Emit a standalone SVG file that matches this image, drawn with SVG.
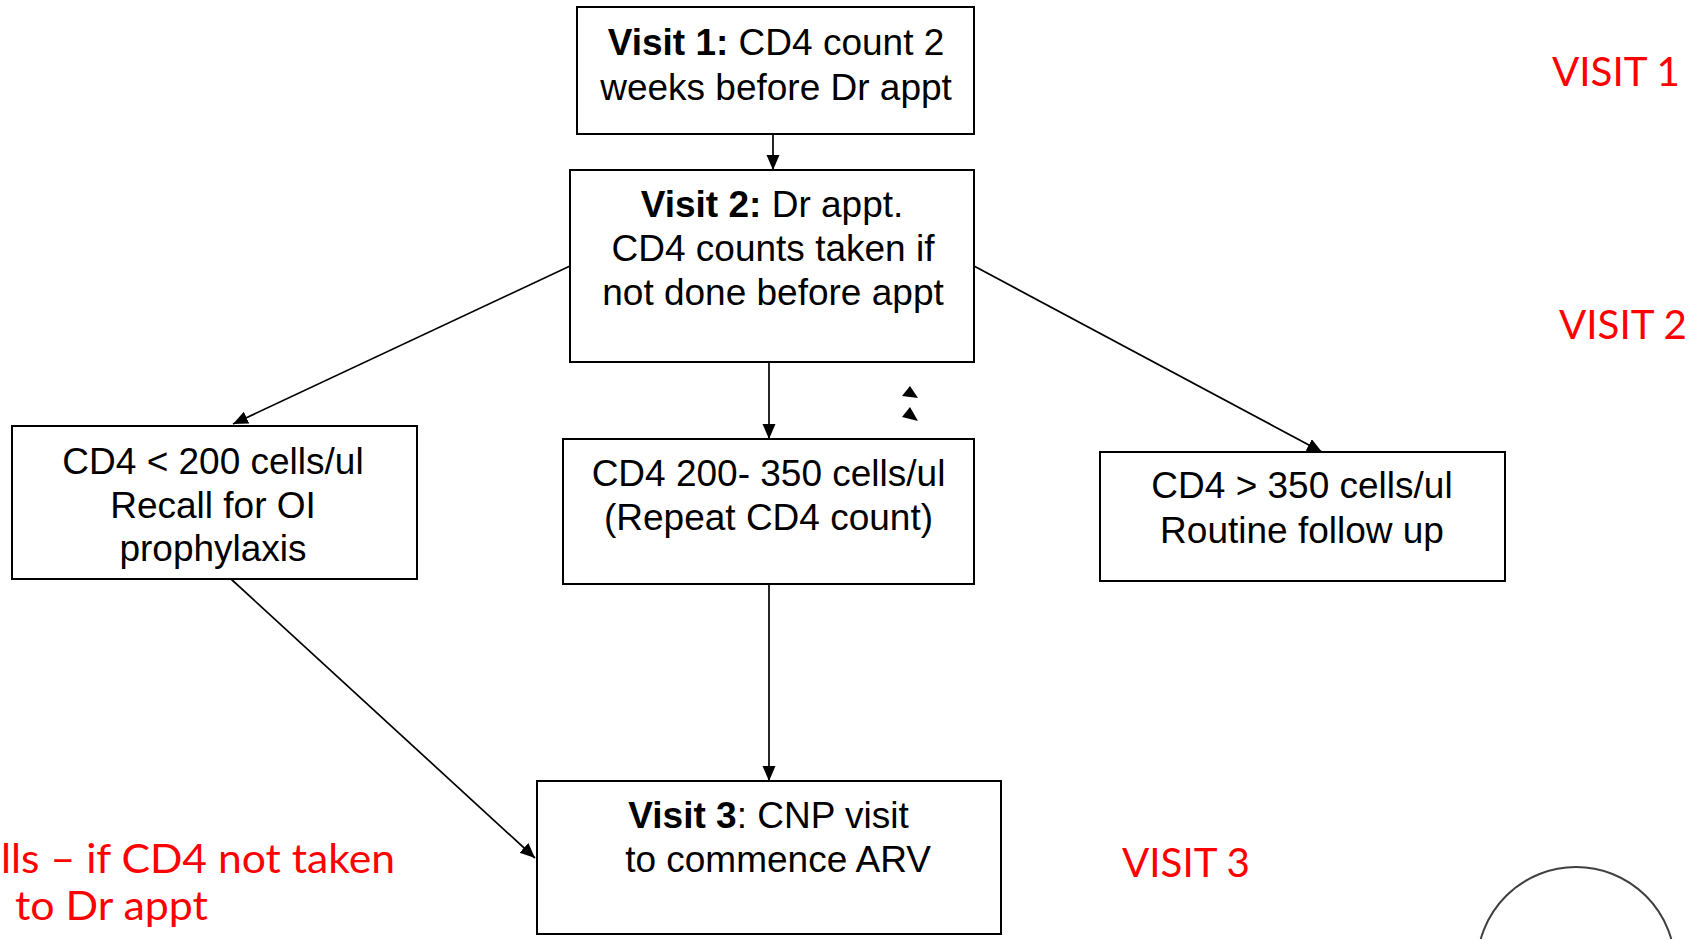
<svg xmlns="http://www.w3.org/2000/svg" width="1700" height="939" viewBox="0 0 1700 939">
<defs>
<style>
.box{fill:#fff;stroke:#000;stroke-width:2}
.t{font-family:"Liberation Sans",Arial,sans-serif;font-size:37px;fill:#000;text-anchor:middle}
.b{font-weight:bold}
.red{font-family:Lato,"Open Sans",sans-serif;font-size:41px;fill:#ff0000}
.con{stroke:#000;stroke-width:1.7;fill:none;marker-end:url(#arr)}
</style>
<marker id="arr" markerUnits="userSpaceOnUse" markerWidth="16" markerHeight="14" refX="15" refY="6.5" orient="auto">
<path d="M0,0 L15,6.5 L0,13 z" fill="#000"/>
</marker>
</defs>
<rect width="1700" height="939" fill="#fff"/>
<g id="connectors">
<line class="con" x1="773" y1="134" x2="773" y2="170"/>
<line class="con" x1="570" y1="266" x2="233" y2="424"/>
<line class="con" x1="769" y1="362" x2="769" y2="439"/>
<line class="con" x1="974" y1="266" x2="1322" y2="452"/>
<line class="con" x1="231" y1="579" x2="535" y2="858"/>
<line class="con" x1="769" y1="584" x2="769" y2="781"/>
</g>
<g id="visit1">
<rect class="box" x="577" y="7" width="397" height="127"/>
<text class="t" x="776" y="55"><tspan class="b">Visit 1:</tspan> CD4 count 2</text>
<text class="t" x="776" y="100">weeks before Dr appt</text>
</g>
<g id="visit2">
<rect class="box" x="570" y="170" width="404" height="192"/>
<text class="t" x="772" y="217"><tspan class="b">Visit 2:</tspan> Dr appt.</text>
<text class="t" x="773" y="261">CD4 counts taken if</text>
<text class="t" x="773" y="305">not done before appt</text>
</g>
<g id="cd4-low">
<rect class="box" x="12" y="426" width="405" height="153"/>
<text class="t" x="213" y="474">CD4 &lt; 200 cells/ul</text>
<text class="t" x="213" y="518">Recall for OI</text>
<text class="t" x="213" y="561">prophylaxis</text>
</g>
<g id="cd4-mid">
<rect class="box" x="563" y="439" width="411" height="145"/>
<text class="t" x="768.5" y="486">CD4 200- 350 cells/ul</text>
<text class="t" x="768.5" y="530">(Repeat CD4 count)</text>
</g>
<g id="cd4-high">
<rect class="box" x="1100" y="452" width="405" height="129"/>
<text class="t" x="1302" y="498">CD4 &gt; 350 cells/ul</text>
<text class="t" x="1302" y="543">Routine follow up</text>
</g>
<g id="visit3">
<rect class="box" x="537" y="781" width="464" height="153"/>
<text class="t" x="768.5" y="828"><tspan class="b">Visit 3</tspan>: CNP visit</text>
<text class="t" x="778" y="872">to commence ARV</text>
</g>
<g id="stray-arrowheads">
<path d="M910,386 L902,396 L918,398 z" fill="#000"/>
<path d="M910,407 L902,417 L918,421 z" fill="#000"/>
</g>
<g id="labels">
<text class="red" x="1552" y="86" textLength="128" lengthAdjust="spacingAndGlyphs">VISIT 1</text>
<text class="red" x="1559" y="339" textLength="128" lengthAdjust="spacingAndGlyphs">VISIT 2</text>
<text class="red" x="1122" y="877" textLength="128" lengthAdjust="spacingAndGlyphs">VISIT 3</text>
<text class="red" x="1" y="873" textLength="394" lengthAdjust="spacingAndGlyphs">lls – if CD4 not taken</text>
<text class="red" x="15" y="920" textLength="193" lengthAdjust="spacingAndGlyphs">to Dr appt</text>
</g>
<g id="circle">
<circle cx="1576" cy="966" r="99" fill="none" stroke="#404040" stroke-width="2"/>
</g>
</svg>
